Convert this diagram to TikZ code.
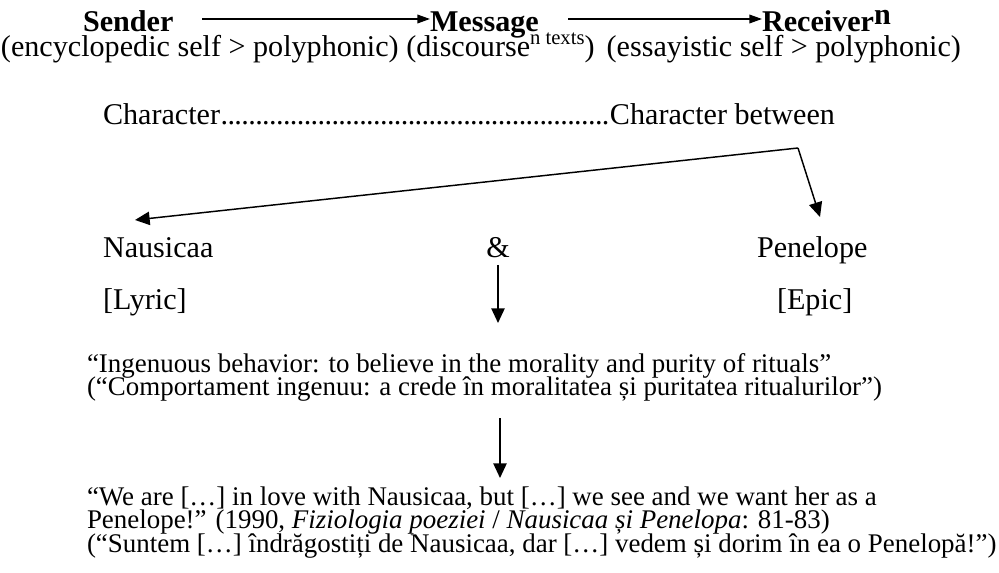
\documentclass[tikz,border=0pt]{standalone}
\usepackage{fontspec}
\setmainfont{Liberation Serif}
\usetikzlibrary{arrows.meta}
\newcommand{\bigsz}{\fontsize{22.6pt}{26pt}\selectfont}
\newcommand{\smsz}{\fontsize{20.2pt}{23pt}\selectfont}
\begin{document}
\begin{tikzpicture}[x=0.75pt,y=-0.75pt,
  every node/.style={inner sep=0pt,outer sep=0pt,font=\bigsz},
  lbl/.style={anchor=base west},
  clbl/.style={anchor=base},
  qt/.style={anchor=base west,font=\smsz},
  toparr/.style={line width=1.1pt,-{Triangle[length=9.5pt,width=6.5pt]}},
  arr/.style={line width=1.1pt,-{Triangle[length=11pt,width=10pt]}}]
\useasboundingbox (0,0) rectangle (999,573);
% top row
\node[lbl,font=\bigsz\bfseries] (sender) at (83,32) {Sender};
\node[lbl,font=\bigsz\bfseries] (message) at (430,32) {Message};
\node[lbl,font=\bigsz\bfseries] (receiver) at (762,32) {Receiver\raisebox{5.5pt}{n}};
\coordinate (a1) at (202,19);
\coordinate (a2) at (568,19);
\draw[toparr] (a1) -- (message.west |- a1);
\draw[toparr] (a2) -- (receiver.west |- a2);
% second row
\node[lbl] (roles) at (1,57) {(encyclopedic self > polyphonic) (discourse\raisebox{0.4em}{\fontsize{15.5}{15.5}\selectfont n texts})\hspace{0.4em}(essayistic self > polyphonic)};
% character line
\node[lbl] (chars) at (103,125) {\hbox to 549pt{Character\leaders\hbox to 5.2pt{\hss.\hss}\hfill Character between}};
\coordinate (corner) at (798,148);
\coordinate (tipL) at (135,220);
\coordinate (tipR) at (820,217);
\draw[arr] (corner) -- (tipL);
\draw[arr] (corner) -- (tipR);
% names
\node[lbl] (naus) at (103,258) {Nausicaa};
\node[clbl] (amp) at (498,258) {\&};
\node[lbl] (pen) at (757,258) {Penelope};
\node[lbl] (lyric) at (103,310) {[Lyric]};
\node[lbl] (epic) at (777,310) {[Epic]};
\coordinate (d1top) at (498,265);
\coordinate (d1bot) at (498,323);
\draw[arr] (d1top) -- (d1bot);
% ingenuous
\node[qt] (ing) at (87,373) {“Ingenuous behavior: to believe in the morality and purity of rituals”};
\node[qt] (comp) at (87,395) {(“Comportament ingenuu: a crede în moralitatea și puritatea ritualurilor”)};
\coordinate (d2top) at (500,418);
\coordinate (d2bot) at (500,478);
\draw[arr] (d2top) -- (d2bot);
% quote
\node[qt] (we) at (87,505) {“We are […] in love with Nausicaa, but […] we see and we want her as a};
\node[qt] (pen2) at (87,528) {Penelope!” (1990, \textit{Fiziologia poeziei} / \textit{Nausicaa și Penelopa}: 81-83)};
\node[qt] (sunt) at (87,552) {(“Suntem […] îndrăgostiți de Nausicaa, dar […] vedem și dorim în ea o Penelopă!”)};
\end{tikzpicture}
\end{document}
